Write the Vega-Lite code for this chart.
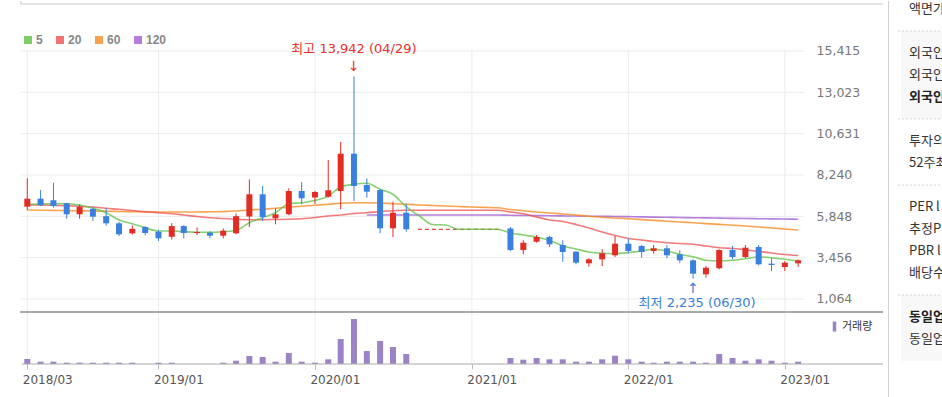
{
  "$schema": "https://vega.github.io/schema/vega-lite/v6.json",
  "padding": 0,
  "spacing": 0,
  "bounds": "flush",
  "background": "white",
  "config": {"view": {"stroke": null}, "concat": {"spacing": 0}},
  "datasets": {
    "monthly": [
      {"date":"2018-03-01","open":6405,"high":8049,"low":6214,"close":6868,"volume":500000,"ma5":6544,"ma20":6504,"ma60":6214,"ma120":null},
      {"date":"2018-04-01","open":6868,"high":7372,"low":6445,"close":6486,"volume":230000,"ma5":6562,"ma20":6504,"ma60":6203,"ma120":null},
      {"date":"2018-05-01","open":6776,"high":7794,"low":6359,"close":6446,"volume":230000,"ma5":6579,"ma20":6486,"ma60":6191,"ma120":null},
      {"date":"2018-06-01","open":6603,"high":6638,"low":5712,"close":5967,"volume":130000,"ma5":6579,"ma20":6463,"ma60":6180,"ma120":null},
      {"date":"2018-07-01","open":5967,"high":6533,"low":5712,"close":6400,"volume":130000,"ma5":6504,"ma20":6429,"ma60":6168,"ma120":null},
      {"date":"2018-08-01","open":6272,"high":6388,"low":5578,"close":5827,"volume":130000,"ma5":6313,"ma20":6388,"ma60":6157,"ma120":null},
      {"date":"2018-09-01","open":5856,"high":6313,"low":5306,"close":5445,"volume":130000,"ma5":6058,"ma20":6313,"ma60":6139,"ma120":null},
      {"date":"2018-10-01","open":5445,"high":5532,"low":4710,"close":4808,"volume":130000,"ma5":5636,"ma20":6255,"ma60":6128,"ma120":null},
      {"date":"2018-11-01","open":4866,"high":5317,"low":4796,"close":5126,"volume":130000,"ma5":5422,"ma20":6186,"ma60":6116,"ma120":null},
      {"date":"2018-12-01","open":5231,"high":5283,"low":4749,"close":4883,"volume":0,"ma5":5190,"ma20":6116,"ma60":6104,"ma120":null},
      {"date":"2019-01-01","open":4957,"high":5057,"low":4420,"close":4576,"volume":130000,"ma5":4999,"ma20":6058,"ma60":6099,"ma120":null},
      {"date":"2019-02-01","open":4664,"high":5456,"low":4507,"close":5283,"volume":130000,"ma5":4999,"ma20":6000,"ma60":6099,"ma120":null},
      {"date":"2019-03-01","open":5283,"high":5340,"low":4576,"close":4883,"volume":0,"ma5":4959,"ma20":5925,"ma60":6099,"ma120":null},
      {"date":"2019-04-01","open":4883,"high":5208,"low":4768,"close":4941,"volume":0,"ma5":4924,"ma20":5838,"ma60":6099,"ma120":null},
      {"date":"2019-05-01","open":4900,"high":4981,"low":4576,"close":4727,"volume":0,"ma5":4924,"ma20":5769,"ma60":6110,"ma120":null},
      {"date":"2019-06-01","open":4727,"high":5149,"low":4576,"close":5016,"volume":130000,"ma5":4959,"ma20":5722,"ma60":6122,"ma120":null},
      {"date":"2019-07-01","open":4866,"high":6012,"low":4808,"close":5856,"volume":330000,"ma5":5040,"ma20":5676,"ma60":6157,"ma120":null},
      {"date":"2019-08-01","open":5838,"high":7979,"low":5230,"close":7123,"volume":800000,"ma5":5480,"ma20":5653,"ma60":6214,"ma120":null},
      {"date":"2019-09-01","open":7123,"high":7603,"low":5578,"close":5810,"volume":700000,"ma5":5769,"ma20":5653,"ma60":6255,"ma120":null},
      {"date":"2019-10-01","open":5734,"high":6294,"low":5387,"close":5967,"volume":230000,"ma5":6058,"ma20":5665,"ma60":6313,"ma120":null},
      {"date":"2019-11-01","open":5967,"high":7468,"low":5908,"close":7314,"volume":1100000,"ma5":6579,"ma20":5676,"ma60":6371,"ma120":null},
      {"date":"2019-12-01","open":7314,"high":7835,"low":6544,"close":6891,"volume":230000,"ma5":6637,"ma20":5711,"ma60":6429,"ma120":null},
      {"date":"2020-01-01","open":6937,"high":7314,"low":6561,"close":7256,"volume":130000,"ma5":6764,"ma20":5780,"ma60":6487,"ma120":null},
      {"date":"2020-02-01","open":6984,"high":9108,"low":6926,"close":7354,"volume":470000,"ma5":7025,"ma20":5867,"ma60":6544,"ma120":null},
      {"date":"2020-03-01","open":7314,"high":10149,"low":6255,"close":9472,"volume":2500000,"ma5":7545,"ma20":5925,"ma60":6602,"ma120":null},
      {"date":"2020-04-01","open":9472,"high":13942,"low":6735,"close":7603,"volume":4500000,"ma5":7702,"ma20":6012,"ma60":6631,"ma120":null},
      {"date":"2020-05-01","open":7661,"high":8049,"low":6926,"close":7273,"volume":1300000,"ma5":7760,"ma20":6058,"ma60":6637,"ma120":5925},
      {"date":"2020-06-01","open":7372,"high":7412,"low":4866,"close":5155,"volume":2300000,"ma5":7412,"ma20":6128,"ma60":6620,"ma120":5925},
      {"date":"2020-07-01","open":5155,"high":6694,"low":4652,"close":6058,"volume":1700000,"ma5":7123,"ma20":6174,"ma60":6579,"ma120":5925},
      {"date":"2020-08-01","open":6058,"high":6579,"low":4959,"close":5097,"volume":1000000,"ma5":6388,"ma20":6197,"ma60":6544,"ma120":5925},
      {"date":"2020-09-01","open":null,"high":null,"low":null,"close":null,"volume":null,"ma5":5867,"ma20":6197,"ma60":6504,"ma120":5925},
      {"date":"2020-10-01","open":null,"high":null,"low":null,"close":null,"volume":null,"ma5":5375,"ma20":6197,"ma60":6475,"ma120":5925},
      {"date":"2020-11-01","open":null,"high":null,"low":null,"close":null,"volume":null,"ma5":5346,"ma20":6197,"ma60":6446,"ma120":5925},
      {"date":"2020-12-01","open":null,"high":null,"low":null,"close":null,"volume":null,"ma5":5098,"ma20":6197,"ma60":6417,"ma120":5925},
      {"date":"2021-01-01","open":null,"high":null,"low":null,"close":null,"volume":null,"ma5":5098,"ma20":6197,"ma60":6388,"ma120":5925},
      {"date":"2021-02-01","open":null,"high":null,"low":null,"close":null,"volume":null,"ma5":5098,"ma20":6197,"ma60":6365,"ma120":5925},
      {"date":"2021-03-01","open":null,"high":null,"low":null,"close":null,"volume":null,"ma5":5098,"ma20":6197,"ma60":6342,"ma120":5925},
      {"date":"2021-04-01","open":5144,"high":5231,"low":3842,"close":3900,"volume":600000,"ma5":4883,"ma20":6099,"ma60":6243,"ma120":5908},
      {"date":"2021-05-01","open":3900,"high":4461,"low":3650,"close":4322,"volume":430000,"ma5":4768,"ma20":6000,"ma60":6174,"ma120":5900},
      {"date":"2021-06-01","open":4380,"high":4768,"low":4322,"close":4652,"volume":600000,"ma5":4652,"ma20":5809,"ma60":6099,"ma120":5890},
      {"date":"2021-07-01","open":4652,"high":4710,"low":4073,"close":4229,"volume":470000,"ma5":4461,"ma20":5636,"ma60":6041,"ma120":5880},
      {"date":"2021-08-01","open":4189,"high":4461,"low":3222,"close":3784,"volume":470000,"ma5":4131,"ma20":5549,"ma60":5983,"ma120":5872},
      {"date":"2021-09-01","open":3800,"high":3842,"low":3071,"close":3164,"volume":230000,"ma5":3958,"ma20":5375,"ma60":5925,"ma120":5864},
      {"date":"2021-10-01","open":3130,"high":3419,"low":2933,"close":3361,"volume":230000,"ma5":3784,"ma20":5173,"ma60":5850,"ma120":5856},
      {"date":"2021-11-01","open":3361,"high":3940,"low":2974,"close":3708,"volume":470000,"ma5":3709,"ma20":4941,"ma60":5792,"ma120":5848},
      {"date":"2021-12-01","open":3593,"high":4710,"low":3494,"close":4264,"volume":830000,"ma5":3686,"ma20":4739,"ma60":5751,"ma120":5840},
      {"date":"2022-01-01","open":4264,"high":4577,"low":3709,"close":3842,"volume":470000,"ma5":3743,"ma20":4565,"ma60":5705,"ma120":5828},
      {"date":"2022-02-01","open":4131,"high":4189,"low":3454,"close":3784,"volume":230000,"ma5":3842,"ma20":4478,"ma60":5659,"ma120":5816},
      {"date":"2022-03-01","open":3842,"high":4189,"low":3686,"close":3998,"volume":130000,"ma5":3940,"ma20":4391,"ma60":5613,"ma120":5804},
      {"date":"2022-04-01","open":3998,"high":4189,"low":3419,"close":3593,"volume":230000,"ma5":3842,"ma20":4322,"ma60":5566,"ma120":5792},
      {"date":"2022-05-01","open":3650,"high":3882,"low":3164,"close":3303,"volume":230000,"ma5":3651,"ma20":4276,"ma60":5520,"ma120":5780},
      {"date":"2022-06-01","open":3303,"high":3361,"low":2235,"close":2528,"volume":230000,"ma5":3512,"ma20":4230,"ma60":5474,"ma120":5768},
      {"date":"2022-07-01","open":2493,"high":2974,"low":2297,"close":2875,"volume":130000,"ma5":3304,"ma20":4131,"ma60":5428,"ma120":5756},
      {"date":"2022-08-01","open":2840,"high":3940,"low":2783,"close":3900,"volume":1000000,"ma5":3263,"ma20":4033,"ma60":5381,"ma120":5744},
      {"date":"2022-09-01","open":3900,"high":4131,"low":3361,"close":3494,"volume":600000,"ma5":3304,"ma20":3986,"ma60":5335,"ma120":5732},
      {"date":"2022-10-01","open":3494,"high":4189,"low":3419,"close":4033,"volume":330000,"ma5":3396,"ma20":3917,"ma60":5289,"ma120":5720},
      {"date":"2022-11-01","open":4073,"high":4189,"low":3013,"close":3071,"volume":470000,"ma5":3494,"ma20":3813,"ma60":5231,"ma120":5710},
      {"date":"2022-12-01","open":3110,"high":3419,"low":2684,"close":3032,"volume":330000,"ma5":3454,"ma20":3726,"ma60":5173,"ma120":5700},
      {"date":"2023-01-01","open":2916,"high":3263,"low":2684,"close":3165,"volume":130000,"ma5":3361,"ma20":3639,"ma60":5115,"ma120":5690},
      {"date":"2023-02-01","open":3130,"high":3361,"low":2916,"close":3303,"volume":230000,"ma5":3263,"ma20":3581,"ma60":5057,"ma120":5680}
    ],
    "levels": [{"level":1064},{"level":3456},{"level":5848},{"level":8240},{"level":10631},{"level":13023},{"level":15415}],
    "years": [{"date":"2018-03-01"},{"date":"2019-01-01"},{"date":"2020-01-01"},{"date":"2021-01-01"},{"date":"2022-01-01"},{"date":"2023-01-01"}],
    "extremes": [
      {"date":"2020-04-01","price":13942,"label":"최고 13,942 (04/29)","kind":"high"},
      {"date":"2022-06-01","price":2235,"label":"최저 2,235 (06/30)","kind":"low"}
    ],
    "halt": [{"from":"2020-08-28","to":"2021-03-12","price":5097}],
    "side": [
      {"label":"액면가 l 매매단위","bold":false},
      {"label":"외국인한도주식수(A)","bold":false},
      {"label":"외국인보유주식수(B)","bold":false},
      {"label":"외국인소진율(B/A)","bold":true},
      {"label":"투자의견 l 목표주가","bold":false},
      {"label":"52주최고 l 최저","bold":false},
      {"label":"PER l EPS(2022.09)","bold":false},
      {"label":"추정PER l EPS","bold":false},
      {"label":"PBR l BPS (2022.09)","bold":false},
      {"label":"배당수익률 l 2021.12","bold":false},
      {"label":"동일업종 PER","bold":true},
      {"label":"동일업종 등락률","bold":false}
    ],
    "boxes": [{"top":"·1","bottom":"·2"},{"top":"·4","bottom":"·5"}],
    "dashes": [{"at":"·1"},{"at":"·2"},{"at":"·3"},{"at":"·4"}]
  },
  "hconcat": [
    {
      "width": 888,
      "height": 397,
      "resolve": {"scale": {"y": "independent"}},
      "layer": [
        {
          "layer": [
            {
              "data": {"values": [{}]},
              "mark": {"type": "rule", "color": "#c8c8c8", "strokeWidth": 1},
              "encoding": {
                "x": {"datum": {"year":2018,"month":2,"date":14,"utc":true}, "type": "temporal", "scale": {"type": "utc", "nice": false, "domain": [{"year":2018,"month":1,"date":8,"utc":true},{"year":2023,"month":8,"date":18,"utc":true}]}},
                "x2": {"datum": {"year":2023,"month":8,"date":18,"utc":true}},
                "y": {"datum": 18135, "type": "quantitative", "scale": {"domain": [-4665, 18308], "nice": false, "zero": false}}
              }
            },
            {
              "data": {"values": [{}]},
              "mark": {"type": "rule", "color": "#c8c8c8", "strokeWidth": 1},
              "encoding": {
                "x": {"datum": {"year":2018,"month":2,"date":14,"utc":true}, "type": "temporal"},
                "y": {"datum": 18308, "type": "quantitative"},
                "y2": {"datum": 18135}
              }
            },
            {
              "data": {"name": "years"},
              "mark": {"type": "rule", "color": "#ececec", "strokeWidth": 1},
              "encoding": {
                "x": {"field": "date", "type": "temporal", "title": null},
                "y": {"datum": 15473, "type": "quantitative"},
                "y2": {"datum": -2700}
              }
            },
            {
              "data": {"name": "levels"},
              "mark": {"type": "rule", "color": "#ebebeb", "strokeWidth": 1},
              "encoding": {
                "x": {"datum": {"year":2018,"month":2,"date":14,"utc":true}, "type": "temporal"},
                "x2": {"datum": {"year":2023,"month":2,"date":15,"utc":true}},
                "y": {"field": "level", "type": "quantitative", "title": null,
                  "axis": {"orient": "right", "offset": -72, "values": [1064,3456,5848,8240,10631,13023,15415], "format": ",d", "labelFont": "DejaVu Sans", "labelFontSize": 12.5, "labelColor": "#777777", "labelPadding": 0, "ticks": false, "tickSize": 0, "domain": false, "grid": false, "labelOverlap": false, "labelFlush": false, "labelBound": false, "title": null}}
              }
            },
            {
              "data": {"values": [{}]},
              "mark": {"type": "rule", "color": "#aaaaaa", "strokeWidth": 2},
              "encoding": {
                "x": {"datum": {"year":2018,"month":2,"date":12,"utc":true}, "type": "temporal"},
                "x2": {"datum": {"year":2023,"month":8,"date":18,"utc":true}},
                "y": {"datum": 312, "type": "quantitative"}
              }
            },
            {
              "data": {"name": "monthly"},
              "mark": {"type": "line", "strokeWidth": 1.6, "opacity": 0.8, "interpolate": "monotone"},
              "encoding": {
                "x": {"field": "date", "type": "temporal", "title": null},
                "y": {"field": "ma120", "type": "quantitative", "title": null},
                "color": {"datum": "120", "type": "nominal",
                  "scale": {"domain": ["5","20","60","120"], "range": ["#5fc143","#f04e4e","#f78c22","#a25fd5"]},
                  "legend": {"orient": "none", "legendX": 22, "legendY": 33, "direction": "horizontal", "title": null, "symbolType": "square", "symbolSize": 16, "symbolStrokeWidth": 4, "symbolOpacity": 1, "labelFont": "Liberation Sans", "labelFontSize": 12, "labelFontWeight": "bold", "labelColor": "#888888", "labelOffset": 2, "columnPadding": 7, "padding": 0, "rowPadding": 0}}
              }
            },
            {
              "data": {"name": "monthly"},
              "mark": {"type": "line", "strokeWidth": 1.6, "opacity": 0.8, "interpolate": "monotone"},
              "encoding": {
                "x": {"field": "date", "type": "temporal", "title": null},
                "y": {"field": "ma60", "type": "quantitative", "title": null},
                "color": {"datum": "60", "type": "nominal"}
              }
            },
            {
              "data": {"name": "monthly"},
              "mark": {"type": "line", "strokeWidth": 1.6, "opacity": 0.75, "interpolate": "monotone"},
              "encoding": {
                "x": {"field": "date", "type": "temporal", "title": null},
                "y": {"field": "ma20", "type": "quantitative", "title": null},
                "color": {"datum": "20", "type": "nominal"}
              }
            },
            {
              "data": {"name": "halt"},
              "mark": {"type": "rule", "color": "#e8453c", "strokeWidth": 1.3, "strokeDash": [4, 3]},
              "encoding": {
                "x": {"field": "from", "type": "temporal", "title": null},
                "x2": {"field": "to"},
                "y": {"field": "price", "type": "quantitative", "title": null}
              }
            },
            {
              "data": {"name": "monthly"},
              "mark": {"type": "line", "strokeWidth": 1.6, "opacity": 0.75, "interpolate": "monotone"},
              "encoding": {
                "x": {"field": "date", "type": "temporal", "title": null},
                "y": {"field": "ma5", "type": "quantitative", "title": null},
                "color": {"datum": "5", "type": "nominal"}
              }
            },
            {
              "data": {"name": "monthly"},
              "mark": {"type": "rule", "strokeWidth": 1},
              "encoding": {
                "x": {"field": "date", "type": "temporal", "title": null},
                "y": {"field": "low", "type": "quantitative", "title": null},
                "y2": {"field": "high"},
                "color": {"condition": {"test": "datum.close >= datum.open", "value": "#e22c24"}, "value": "#3980e0"}
              }
            },
            {
              "data": {"name": "monthly"},
              "mark": {"type": "bar", "size": 6},
              "encoding": {
                "x": {"field": "date", "type": "temporal", "title": null},
                "y": {"field": "open", "type": "quantitative", "title": null},
                "y2": {"field": "close"},
                "color": {"condition": {"test": "datum.close >= datum.open", "value": "#e22c24"}, "value": "#3980e0"}
              }
            },
            {
              "data": {"name": "extremes"},
              "transform": [{"filter": "datum.kind == 'high'"}],
              "layer": [
                {"mark": {"type": "text", "dy": -27, "align": "center", "baseline": "middle", "font": "DejaVu Sans, Noto Sans CJK KR", "fontSize": 13, "color": "#e8322c"},
                 "encoding": {"x": {"field": "date", "type": "temporal", "title": null}, "y": {"field": "price", "type": "quantitative", "title": null}, "text": {"field": "label"}}},
                {"mark": {"type": "text", "dy": -9, "align": "center", "baseline": "middle", "font": "DejaVu Sans", "fontSize": 14, "color": "#e8322c"},
                 "encoding": {"x": {"field": "date", "type": "temporal", "title": null}, "y": {"field": "price", "type": "quantitative", "title": null}, "text": {"value": "↓"}}}
              ]
            },
            {
              "data": {"name": "extremes"},
              "transform": [{"filter": "datum.kind == 'low'"}],
              "layer": [
                {"mark": {"type": "text", "dy": 24, "dx": 4, "align": "center", "baseline": "middle", "font": "DejaVu Sans, Noto Sans CJK KR", "fontSize": 13, "color": "#3b7fd9"},
                 "encoding": {"x": {"field": "date", "type": "temporal", "title": null}, "y": {"field": "price", "type": "quantitative", "title": null}, "text": {"field": "label"}}},
                {"mark": {"type": "text", "dy": 10, "align": "center", "baseline": "middle", "font": "DejaVu Sans", "fontSize": 14, "color": "#3b7fd9"},
                 "encoding": {"x": {"field": "date", "type": "temporal", "title": null}, "y": {"field": "price", "type": "quantitative", "title": null}, "text": {"value": "↑"}}}
              ]
            }
          ]
        },
        {
          "layer": [
            {
              "data": {"name": "monthly"},
              "mark": {"type": "bar", "size": 6},
              "encoding": {
                "x": {"field": "date", "type": "temporal", "title": null,
                  "scale": {"type": "utc", "nice": false, "domain": [{"year":2018,"month":1,"date":8,"utc":true},{"year":2023,"month":8,"date":18,"utc":true}]},
                  "axis": {"orient": "bottom", "offset": -34, "values": [{"year":2018,"month":3,"date":1,"utc":true},{"year":2019,"month":1,"date":1,"utc":true},{"year":2020,"month":1,"date":1,"utc":true},{"year":2021,"month":1,"date":1,"utc":true},{"year":2022,"month":1,"date":1,"utc":true},{"year":2023,"month":1,"date":1,"utc":true}], "format": "%Y/%m", "labelAlign": "left", "labelOffset": -5, "labelPadding": 5, "ticks": true, "tickSize": 5, "tickColor": "#bbbbbb", "domain": false, "grid": false, "labelFont": "DejaVu Sans", "labelFontSize": 12, "labelColor": "#555555", "labelOverlap": false, "labelFlush": false, "labelBound": false, "title": null}},
                "y": {"field": "volume", "type": "quantitative", "title": null, "axis": null, "scale": {"domain": [-3400000, 36300000], "nice": false, "zero": false}},
                "fill": {"datum": "거래량", "type": "nominal", "scale": {"range": ["#9a84c6"]},
                  "legend": {"orient": "none", "legendX": 829, "legendY": 320, "title": null, "symbolType": "M-0.35,-1H0.35V1H-0.35Z", "symbolSize": 100, "symbolStrokeWidth": 0, "labelFont": "Noto Sans CJK KR", "labelFontSize": 11, "labelColor": "#333333", "labelOffset": 2, "padding": 0}}
              }
            },
            {
              "data": {"values": [{}]},
              "mark": {"type": "rule", "color": "#aaaaaa", "strokeWidth": 1},
              "encoding": {
                "x": {"datum": {"year":2018,"month":2,"date":16,"utc":true}, "type": "temporal"},
                "x2": {"datum": {"year":2023,"month":8,"date":18,"utc":true}},
                "y": {"datum": 0, "type": "quantitative", "axis": null}
              }
            }
          ]
        }
      ]
    },
    {
      "width": 54,
      "height": 397,
      "layer": [
        {
          "data": {"name": "boxes"},
          "mark": {"type": "rect", "color": "#f8f8f8", "xOffset": 13},
          "encoding": {
            "x": {"datum": 0, "type": "quantitative", "scale": {"domain": [0, 1]}, "axis": null},
            "x2": {"datum": 1},
            "y": {"field": "top", "type": "ordinal", "axis": null, "title": null,
              "scale": {"type": "point", "padding": 0, "range": [8, 360], "domain": ["액면가 l 매매단위", "·1", "외국인한도주식수(A)", "외국인보유주식수(B)", "외국인소진율(B/A)", "·2", "투자의견 l 목표주가", "52주최고 l 최저", "·3", "PER l EPS(2022.09)", "추정PER l EPS", "PBR l BPS (2022.09)", "배당수익률 l 2021.12", "·4", "동일업종 PER", "동일업종 등락률", "·5"]}},
            "y2": {"field": "bottom"}
          }
        },
        {
          "data": {"name": "dashes"},
          "mark": {"type": "rule", "color": "#d4d4d4", "strokeDash": [2, 2], "xOffset": 10},
          "encoding": {
            "x": {"datum": 0, "type": "quantitative", "axis": null},
            "x2": {"datum": 1},
            "y": {"field": "at", "type": "ordinal", "axis": null, "title": null}
          }
        },
        {
          "data": {"values": [{}]},
          "mark": {"type": "rule", "color": "#cfcfcf", "strokeWidth": 1, "xOffset": 0.5},
          "encoding": {
            "x": {"datum": 0, "type": "quantitative", "axis": null}
          }
        },
        {
          "data": {"name": "side"},
          "transform": [{"filter": "!datum.bold"}],
          "mark": {"type": "text", "align": "left", "baseline": "middle", "dx": 21, "font": "Noto Sans CJK KR", "fontSize": 13, "color": "#333333", "clip": true},
          "encoding": {
            "x": {"datum": 0, "type": "quantitative", "axis": null},
            "y": {"field": "label", "type": "ordinal", "axis": null, "title": null},
            "text": {"field": "label"}
          }
        },
        {
          "data": {"name": "side"},
          "transform": [{"filter": "datum.bold"}],
          "mark": {"type": "text", "align": "left", "baseline": "middle", "dx": 21, "font": "Noto Sans CJK KR", "fontSize": 13, "fontWeight": "bold", "color": "#222222", "clip": true},
          "encoding": {
            "x": {"datum": 0, "type": "quantitative", "axis": null},
            "y": {"field": "label", "type": "ordinal", "axis": null, "title": null},
            "text": {"field": "label"}
          }
        }
      ]
    }
  ]
}
